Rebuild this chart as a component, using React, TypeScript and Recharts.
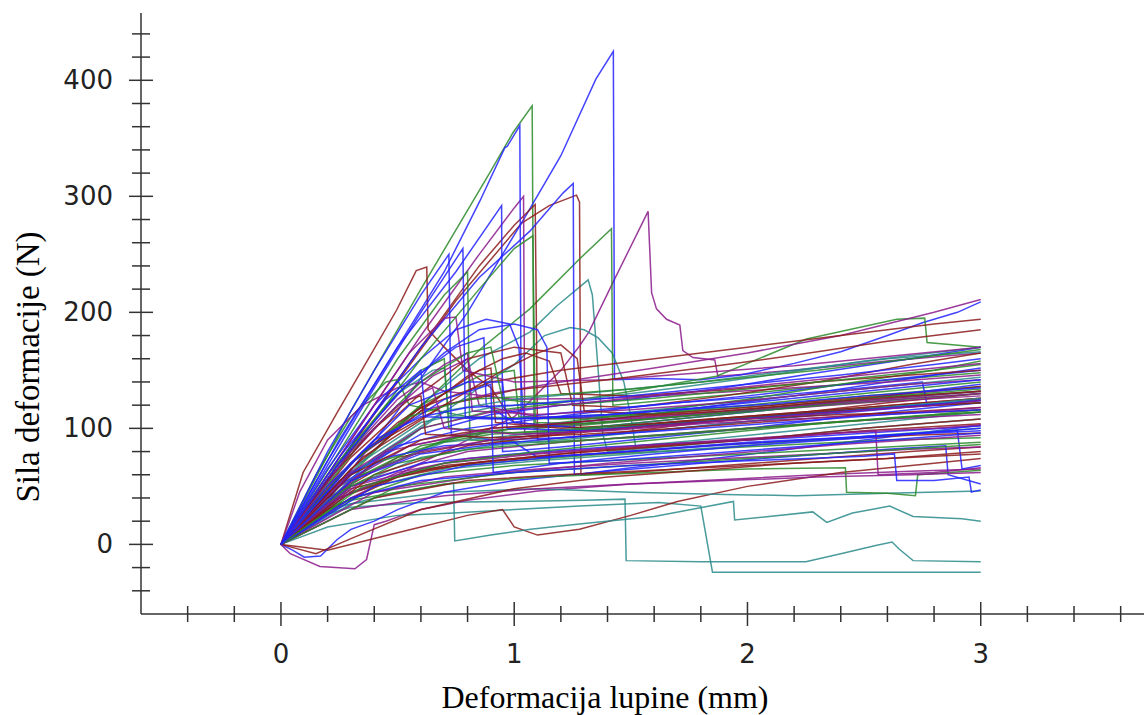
import React from 'react';
import { LineChart, Line, XAxis, YAxis } from 'recharts';

type Pt = [number, number];

const xTicks = [-0.4, -0.2, 0, 0.2, 0.4, 0.6, 0.8, 1, 1.2, 1.4, 1.6, 1.8, 2, 2.2, 2.4, 2.6, 2.8, 3, 3.2, 3.4, 3.6];
const xLabels = [0, 1, 2, 3];
const yTicks = [-40, -20, 0, 20, 40, 60, 80, 100, 120, 140, 160, 180, 200, 220, 240, 260, 280, 300, 320, 340, 360, 380, 400, 420, 440];
const yLabels = [0, 100, 200, 300, 400];

const xTitle = 'Deformacija lupine (mm)';
const yTitle = 'Sila deformacije (N)';

const blueCurves: Pt[][] = [
  [[0,0],[0.2,38],[0.5,115],[0.8,200],[1.04,280],[1.2,335],[1.35,401],[1.425,425],[1.43,142],[1.6,143],[1.8,142],[1.97,146],[2.2,156],[2.4,166],[2.6,180],[2.75,191],[2.9,200],[3,209]],
  [[0,0],[0.2,72],[0.5,170],[0.7,235],[0.853,296],[0.96,342],[0.97,343],[1.024,361],[1.03,100],[1.2,104],[1.5,110],[1.8,118],[2.2,128],[2.6,140],[3,152]],
  [[0,0],[0.3,85],[0.6,170],[0.85,230],[1.067,270],[1.21,303],[1.253,311],[1.258,60],[1.5,66],[1.9,75],[2.3,85],[2.7,95],[3,103]],
  [[0,0],[0.25,90],[0.5,170],[0.75,235],[0.946,292],[0.95,80],[1.2,84],[1.6,92],[2.0,100],[2.5,112],[3,122]],
  [[0,0],[0.2,65],[0.4,120],[0.6,160],[0.75,185],[0.88,194],[0.98,190],[1.02,170],[1.04,110],[1.3,115],[1.7,122],[2.1,128],[2.5,135],[2.75,140],[2.77,120],[3,125]],
  [[0,0],[0.2,80],[0.4,150],[0.6,215],[0.72,250],[0.73,95],[0.9,90],[1.2,92],[1.6,98],[2.0,106],[2.5,115],[3,124]],
  [[0,0],[0.15,40],[0.35,95],[0.55,140],[0.75,170],[0.87,178],[0.88,120],[1.0,105],[1.3,100],[1.7,108],[2.1,116],[2.6,128],[3,138]],
  [[0,0],[0.05,-5],[0.1,-11],[0.17,-10],[0.24,4],[0.3,13],[0.4,20],[0.5,30],[0.7,45],[1.0,55],[1.4,63],[1.8,70],[2.2,76],[2.6,82],[2.85,85],[2.86,60],[3,52]],
  [[0,0],[0.3,60],[0.6,95],[0.9,112],[1.2,120],[1.5,125],[1.9,135],[2.3,148],[2.7,160],[3,170]],
  [[0,0],[0.25,55],[0.5,85],[0.8,100],[1.1,108],[1.5,118],[2.0,128],[2.5,140],[3,150]],
  [[0,0],[0.3,50],[0.6,70],[1.0,78],[1.4,84],[1.8,88],[2.2,92],[2.6,97],[3,102]],
  [[0,0],[0.2,45],[0.45,75],[0.7,85],[1.0,88],[1.1,75],[1.5,80],[2.0,87],[2.5,93],[2.9,98],[2.92,65],[3,68]],
  [[0,0],[0.3,70],[0.55,120],[0.8,140],[0.95,140],[0.97,100],[1.3,98],[1.7,104],[2.1,110],[2.5,116],[3,124]],
  [[0,0],[0.25,70],[0.5,130],[0.7,165],[0.85,185],[1.0,190],[1.1,185],[1.14,170],[1.15,70],[1.4,72],[1.8,78],[2.2,84],[2.6,90],[3,96]],
  [[0,0],[0.4,50],[0.8,68],[1.2,76],[1.6,82],[2.0,88],[2.4,92],[2.8,96],[3,98]],
  [[0,0],[0.3,40],[0.6,55],[1.0,62],[1.5,68],[2.0,72],[2.5,76],[2.63,78],[2.64,55],[2.8,55],[2.95,58],[2.96,45],[3,47]],
  [[0,0],[0.2,68],[0.4,135],[0.6,200],[0.78,255],[0.79,110],[1.0,108],[1.4,112],[1.8,118],[2.2,126],[2.6,134],[3,142]],
  [[0,0],[0.35,80],[0.7,125],[0.9,138],[0.91,62],[1.2,70],[1.6,78],[2.0,85],[2.5,92],[3,100]],
  [[0,0],[0.2,50],[0.4,90],[0.6,110],[0.8,118],[1.0,120],[1.3,124],[1.6,130],[2.0,138],[2.4,146],[2.8,155],[3,160]],
  [[0,0],[0.25,75],[0.45,125],[0.6,150],[0.62,110],[0.9,108],[1.3,110],[1.7,116],[2.1,121],[2.5,128],[3,135]],
  [[0,0],[0.3,55],[0.6,78],[0.9,86],[1.2,92],[1.5,96],[1.8,100],[2.2,106],[2.6,112],[3,116]],
];

const redCurves: Pt[][] = [
  [[0,0],[0.25,70],[0.5,140],[0.75,210],[1.032,277],[1.15,292],[1.267,301],[1.28,295],[1.286,60],[1.5,62],[1.9,68],[2.3,74],[2.7,80],[3,84]],
  [[0,0],[0.3,85],[0.6,170],[0.85,240],[1.0,275],[1.09,293],[1.1,90],[1.4,95],[1.8,105],[2.2,113],[2.6,122],[3,130]],
  [[0,0],[0.095,62],[0.239,113],[0.381,162],[0.496,202],[0.58,236],[0.625,239],[0.631,185],[0.7,170],[0.8,150],[0.9,135],[1.0,105],[1.3,100],[1.7,106],[2.1,112],[2.5,118],[3,126]],
  [[0,0],[0.2,-5],[0.4,5],[0.6,15],[0.8,25],[0.95,30],[1.0,15],[1.1,8],[1.28,13],[1.5,25],[1.7,37],[2.0,50],[2.4,62],[2.8,70],[3,74]],
  [[0,0],[0.3,75],[0.6,130],[0.8,160],[1.0,170],[1.2,165],[1.25,120],[1.5,118],[1.9,128],[2.3,140],[2.7,155],[3,165]],
  [[0,0],[0.3,70],[0.6,118],[0.9,140],[1.2,150],[1.6,160],[2.0,170],[2.4,180],[2.8,190],[3,194]],
  [[0,0],[0.2,40],[0.5,75],[0.9,90],[1.3,98],[1.7,106],[2.1,112],[2.5,118],[3,126]],
  [[0,0],[0.3,48],[0.7,68],[1.1,75],[1.5,80],[1.9,86],[2.3,90],[2.7,94],[3,96]],
  [[0,0],[0.4,40],[0.8,55],[1.2,60],[1.6,64],[2.0,68],[2.4,72],[2.8,76],[3,78]],
  [[0,0],[0.25,60],[0.5,105],[0.7,130],[0.85,150],[0.9,152],[0.92,105],[1.2,100],[1.6,104],[2.0,110],[2.5,117],[3,122]],
  [[0,0],[0.35,80],[0.7,120],[1.0,133],[1.4,142],[1.8,152],[2.2,163],[2.6,175],[3,185]],
  [[0,0],[0.2,30],[0.5,58],[0.8,70],[1.2,78],[1.6,84],[2.0,90],[2.5,98],[3,104]],
  [[0,0],[0.3,65],[0.6,115],[0.8,145],[0.95,160],[1.05,165],[1.15,158],[1.2,130],[1.5,128],[1.9,133],[2.3,140],[2.7,146],[3,150]],
  [[0,0],[0.35,75],[0.7,120],[0.95,150],[1.1,165],[1.2,172],[1.27,160],[1.3,115],[1.6,112],[2.0,118],[2.4,125],[2.8,132],[3,136]],
  [[0,0],[0.4,60],[0.8,85],[1.2,95],[1.6,102],[2.0,108],[2.4,112],[2.8,114],[3,116]],
  [[0,0],[0.15,-8],[0.3,5],[0.6,30],[1.0,48],[1.4,58],[1.8,64],[2.2,70],[2.6,74],[3,80]],
  [[0,0],[0.3,60],[0.6,90],[0.9,100],[1.2,104],[1.5,110],[1.9,115],[2.3,122],[2.7,128],[3,132]],
  [[0,0],[0.25,40],[0.55,62],[0.9,72],[1.3,80],[1.7,86],[2.1,92],[2.5,100],[3,108]],
  [[0,0],[0.2,55],[0.4,100],[0.55,125],[0.6,128],[0.62,95],[0.9,92],[1.3,95],[1.7,100],[2.1,106],[2.5,112],[3,118]],
];

const greenCurves: Pt[][] = [
  [[0,0],[0.3,115],[0.6,220],[0.9,322],[0.995,355],[1.077,378],[1.085,100],[1.3,103],[1.7,110],[2.1,118],[2.5,126],[3,134]],
  [[0,0],[0.45,90],[0.853,168],[1.067,203],[1.28,246],[1.417,272],[1.423,120],[1.7,125],[2.1,132],[2.5,140],[3,148]],
  [[0,0],[0.3,60],[0.6,100],[0.9,115],[1.2,122],[1.5,132],[1.867,145],[2.253,177],[2.64,194],[2.76,195],[2.77,174],[3,170]],
  [[0,0],[0.15,60],[0.3,110],[0.45,140],[0.5,142],[0.55,120],[0.8,110],[1.2,108],[1.6,113],[2.0,120],[2.5,130],[3,140]],
  [[0,0],[0.25,80],[0.5,160],[0.7,215],[0.8,235],[0.81,90],[1.1,88],[1.5,92],[1.9,98],[2.3,104],[2.7,110],[3,114]],
  [[0,0],[0.3,70],[0.6,120],[0.85,145],[1.0,150],[1.02,110],[1.3,108],[1.7,114],[2.1,120],[2.5,128],[3,136]],
  [[0,0],[0.35,60],[0.7,90],[1.0,100],[1.4,106],[1.8,112],[2.2,118],[2.6,124],[3,130]],
  [[0,0],[0.3,45],[0.6,65],[1.0,72],[1.4,78],[1.8,82],[2.2,86],[2.6,90],[3,92]],
  [[0,0],[0.3,38],[0.7,52],[1.1,58],[1.6,62],[2.0,65],[2.42,66],[2.425,45],[2.6,44],[2.72,42],[2.73,60],[3,64]],
  [[0,0],[0.2,60],[0.45,120],[0.6,150],[0.7,160],[0.72,100],[1.0,96],[1.4,100],[1.8,106],[2.2,112],[2.6,118],[3,122]],
  [[0,0],[0.3,55],[0.6,85],[0.9,95],[1.3,100],[1.7,108],[2.1,116],[2.5,124],[3,132]],
  [[0,0],[0.4,70],[0.8,95],[1.2,105],[1.6,115],[2.0,125],[2.4,138],[2.8,150],[3,158]],
  [[0,0],[0.25,35],[0.6,60],[1.0,68],[1.4,72],[1.8,76],[2.2,80],[2.6,84],[3,88]],
  [[0,0],[0.3,80],[0.6,160],[0.85,220],[1.0,255],[1.08,266],[1.09,105],[1.3,104],[1.7,110],[2.1,118],[2.5,126],[3,132]],
  [[0,0],[0.35,90],[0.6,140],[0.8,165],[0.9,170],[0.95,125],[1.2,120],[1.6,126],[2.0,134],[2.4,142],[2.8,150],[3,155]],
  [[0,0],[0.5,50],[1.0,62],[1.5,68],[2.0,74],[2.5,80],[3,86]],
  [[0,0],[0.3,70],[0.55,110],[0.8,125],[1.1,128],[1.5,134],[1.9,142],[2.3,150],[2.7,160],[3,168]],
  [[0,0],[0.25,45],[0.5,70],[0.8,82],[1.2,88],[1.6,94],[2.0,100],[2.4,106],[2.8,112],[3,116]],
  [[0,0],[0.35,50],[0.7,70],[1.1,80],[1.5,88],[1.9,96],[2.3,104],[2.7,110],[3,114]],
];

const purpleCurves: Pt[][] = [
  [[0,0],[0.3,40],[0.7,80],[1.0,110],[1.2,150],[1.28,171],[1.32,183],[1.424,226],[1.574,287],[1.589,217],[1.61,203],[1.653,194],[1.71,189],[1.723,167],[1.766,161],[1.86,159],[1.873,145],[2.2,150],[2.6,158],[3,165]],
  [[0,0],[0.3,90],[0.6,180],[0.85,250],[1.0,290],[1.04,300],[1.045,95],[1.3,98],[1.7,104],[2.1,110],[2.5,116],[3,122]],
  [[0,0],[0.04,-8],[0.167,-19],[0.317,-21],[0.367,-13],[0.4,17],[0.45,20],[0.52,25],[0.6,30],[0.8,38],[1.1,46],[1.5,52],[1.9,56],[2.3,60],[2.7,63],[3,65]],
  [[0,0],[0.04,22],[0.08,45],[0.2,90],[0.35,120],[0.5,135],[0.6,140],[0.7,132],[1.0,125],[1.4,126],[1.8,130],[2.2,135],[2.6,140],[3,146]],
  [[0,0],[0.3,70],[0.6,115],[0.9,130],[1.2,140],[1.6,152],[2.0,165],[2.4,180],[2.8,200],[3,211]],
  [[0,0],[0.25,50],[0.55,85],[0.9,98],[1.3,104],[1.7,110],[2.1,116],[2.5,122],[3,128]],
  [[0,0],[0.3,40],[0.7,58],[1.1,65],[1.5,70],[1.9,74],[2.3,78],[2.7,82],[3,84]],
  [[0,0],[0.2,55],[0.45,110],[0.65,145],[0.8,160],[0.85,120],[1.1,110],[1.5,108],[1.9,114],[2.3,120],[2.7,126],[3,130]],
  [[0,0],[0.35,55],[0.8,80],[1.2,88],[1.6,94],[2.0,100],[2.4,106],[2.8,110],[3,112]],
  [[0,0],[0.3,90],[0.55,165],[0.7,195],[0.75,196],[0.78,150],[1.0,140],[1.4,142],[1.8,148],[2.2,154],[2.6,162],[3,170]],
  [[0,0],[0.3,30],[0.7,42],[1.1,48],[1.5,52],[1.9,55],[2.3,58],[2.7,60],[3,62]],
  [[0,0],[0.3,50],[0.7,70],[1.1,78],[1.5,84],[1.9,90],[2.3,95],[2.55,98],[2.56,60],[2.8,62],[3,66]],
  [[0,0],[0.25,70],[0.5,125],[0.7,155],[0.8,165],[0.82,115],[1.1,112],[1.5,116],[1.9,122],[2.3,130],[2.7,138],[3,142]],
  [[0,0],[0.4,45],[0.9,60],[1.4,70],[1.9,78],[2.4,86],[3,94]],
  [[0,0],[0.3,62],[0.6,100],[0.9,114],[1.3,122],[1.7,130],[2.1,138],[2.5,146],[3,156]],
  [[0,0],[0.45,80],[0.9,100],[1.3,106],[1.7,112],[2.1,118],[2.5,124],[3,132]],
  [[0,0],[0.3,55],[0.6,80],[0.9,90],[1.2,96],[1.6,102],[2.0,108],[2.4,114],[2.8,120],[3,124]],
  [[0,0],[0.2,35],[0.5,62],[0.8,74],[1.2,80],[1.6,86],[2.0,90],[2.4,96],[2.8,100],[3,103]],
  [[0,0],[0.3,80],[0.5,120],[0.65,135],[0.7,100],[1.0,95],[1.4,98],[1.8,104],[2.2,108],[2.6,112],[3,118]],
];

const tealCurves: Pt[][] = [
  [[0,0],[0.3,62],[0.6,120],[0.85,160],[1.067,183],[1.18,205],[1.317,228],[1.335,215],[1.36,150],[1.38,95],[1.4,80],[1.7,85],[2.1,92],[2.5,100],[3,108]],
  [[0,0],[0.3,55],[0.6,100],[0.85,135],[1.0,155],[1.13,180],[1.24,187],[1.3,185],[1.36,178],[1.42,165],[1.47,140],[1.5,110],[1.52,85],[1.8,90],[2.2,98],[2.6,106],[3,114]],
  [[0,0],[0.1,20],[0.3,32],[0.6,36],[1.0,37],[1.3,38],[1.475,39],[1.48,-14],[1.8,-15],[2.25,-15],[2.4,-8],[2.55,-1],[2.62,2],[2.65,-4],[2.71,-14],[3,-15]],
  [[0,0],[0.2,15],[0.5,25],[0.74,27],[1.0,30],[1.28,33],[1.62,36],[1.8,33],[1.85,-24],[2.4,-24],[3,-24]],
  [[0,0],[0.2,30],[0.5,45],[0.74,53],[0.745,3],[0.9,8],[1.07,13],[1.3,18],[1.6,24],[1.94,37],[1.945,21],[2.28,28],[2.34,19],[2.45,27],[2.61,33],[2.71,24],[2.92,22],[3,20]],
  [[0,0],[0.3,35],[0.7,45],[1.1,48],[1.5,45],[1.9,43],[2.21,42],[2.6,44],[3,46]],
  [[0,0],[0.25,70],[0.5,130],[0.65,150],[0.7,152],[0.72,110],[1.0,108],[1.4,112],[1.8,120],[2.2,128],[2.6,136],[3,144]],
  [[0,0],[0.35,60],[0.7,88],[1.1,96],[1.5,102],[1.9,108],[2.3,114],[2.7,120],[3,124]],
  [[0,0],[0.3,45],[0.7,65],[1.1,72],[1.5,78],[1.9,84],[2.3,90],[2.7,96],[3,100]],
  [[0,0],[0.3,65],[0.6,105],[0.9,118],[1.3,125],[1.7,135],[2.1,146],[2.5,158],[3,170]],
  [[0,0],[0.3,50],[0.6,75],[0.9,85],[1.3,92],[1.7,100],[2.1,108],[2.5,116],[3,126]],
  [[0,0],[0.4,75],[0.7,115],[1.0,125],[1.4,132],[1.8,140],[2.2,150],[2.6,160],[3,166]],
];

const groups: { curves: Pt[][]; color: string }[] = [
  { curves: tealCurves, color: '#2a8a8a' },
  { curves: greenCurves, color: '#2a8a2a' },
  { curves: redCurves, color: '#8b1a1a' },
  { curves: purpleCurves, color: '#8b1a8b' },
  { curves: blueCurves, color: '#2222ff' },
];

const series: { id: string; color: string; data: { x: number; y: number }[] }[] = [];
const maxLen = Math.max(...groups.map((g) => g.curves.length));
for (let i = 0; i < maxLen; i++) {
  groups.forEach((g, gi) => {
    if (i < g.curves.length) {
      series.push({ id: `s${gi}-${i}`, color: g.color, data: g.curves[i].map(([x, y]) => ({ x, y })) });
    }
  });
}

const AX = '#333';
const TICK_FONT = '"DejaVu Sans", Verdana, sans-serif';
const TITLE_FONT = '"Liberation Serif", "Times New Roman", serif';

const XTick = (props: any) => {
  const { x, y, payload } = props;
  const v = payload.value;
  const major = xLabels.some((l) => Math.abs(l - v) < 1e-9);
  const len = major ? 12 : 8;
  return (
    <g>
      <line x1={x} x2={x} y1={y - len} y2={y + len} stroke={AX} strokeWidth={1.5} />
      {major && (
        <text x={x} y={y + 49} textAnchor="middle" fontFamily={TICK_FONT} fontSize={26} fill="#222">
          {Math.round(v)}
        </text>
      )}
    </g>
  );
};

const YTick = (props: any) => {
  const { x, y, payload } = props;
  const v = payload.value;
  const major = yLabels.includes(v);
  const len = major ? 12 : 9;
  return (
    <g>
      <line x1={x - len} x2={x + len} y1={y} y2={y} stroke={AX} strokeWidth={1.5} />
      {major && (
        <text x={x - 28} y={y + 9} textAnchor="end" fontFamily={TICK_FONT} fontSize={26} fill="#222">
          {v}
        </text>
      )}
    </g>
  );
};

export default function App() {
  return (
    <div style={{ position: 'absolute', left: 0, top: 0, width: 1145, height: 715, background: '#fff', overflow: 'hidden' }}>
      <LineChart width={1145} height={715} margin={{ top: 13, right: 1, left: 0, bottom: 0 }}>
        <XAxis
          type="number"
          dataKey="x"
          domain={[-0.6, 3.7]}
          ticks={xTicks}
          interval={0}
          allowDataOverflow
          height={101}
          tickSize={0}
          tickMargin={0}
          tickLine={false}
          axisLine={{ stroke: AX, strokeWidth: 1.5 }}
          tick={<XTick />}
        />
        <YAxis
          type="number"
          dataKey="y"
          domain={[-60, 458]}
          ticks={yTicks}
          interval={0}
          allowDataOverflow
          width={141}
          tickSize={0}
          tickMargin={0}
          tickLine={false}
          axisLine={{ stroke: AX, strokeWidth: 1.5 }}
          tick={<YTick />}
        />
        {series.map((s) => (
          <Line
            key={s.id}
            data={s.data}
            dataKey="y"
            type="linear"
            stroke={s.color}
            strokeWidth={1.5}
            strokeOpacity={0.85}
            dot={false}
            activeDot={false}
            isAnimationActive={false}
          />
        ))}
      </LineChart>
      <div
        style={{
          position: 'absolute',
          left: 0,
          width: 1210,
          top: 680,
          height: 34,
          textAlign: 'center',
          fontFamily: TITLE_FONT,
          fontSize: 32,
          color: '#000',
          whiteSpace: 'nowrap',
          lineHeight: '34px',
        }}
      >
        {xTitle}
      </div>
      <div
        style={{
          position: 'absolute',
          left: 28 - 200,
          top: 367 - 17,
          width: 400,
          height: 34,
          lineHeight: '34px',
          textAlign: 'center',
          transform: 'rotate(-90deg)',
          transformOrigin: '200px 17px',
          fontFamily: TITLE_FONT,
          fontSize: 33,
          color: '#000',
          whiteSpace: 'nowrap',
        }}
      >
        {yTitle}
      </div>
    </div>
  );
}
